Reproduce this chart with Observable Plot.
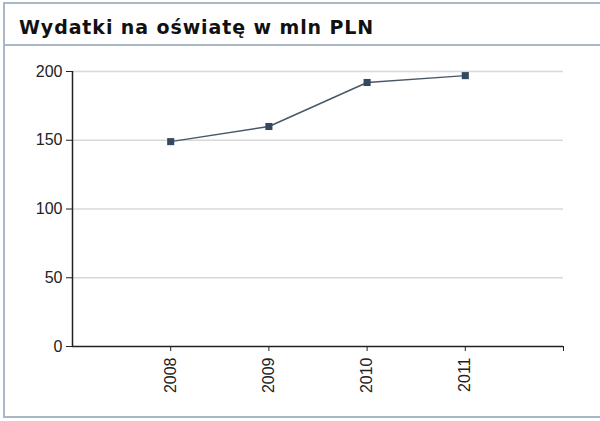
<!DOCTYPE html>
<html>
<head>
<meta charset="utf-8">
<script src="https://cdn.jsdelivr.net/npm/d3@7"></script>
<script src="https://cdn.jsdelivr.net/npm/@observablehq/plot@0.6"></script>
<style>
  html, body { margin: 0; padding: 0; background: #fff; width: 600px; height: 421px; overflow: hidden; }
  #frame { position: absolute; left: 3px; top: 2px; width: 620px; height: 412px;
    border-top: 2px solid #aab7c6; border-left: 2px solid #aab7c6; border-bottom: 2px solid #aab7c6; }
  #title { position: absolute; left: 3px; top: 2px; width: 620px; height: 42px;
    border-bottom: 2px solid #aab7c6; }
  #title span { position: absolute; left: 16px; top: 16px; line-height: 1; font-family: "DejaVu Sans", Verdana, sans-serif;
    font-weight: bold; font-size: 19px; letter-spacing: 0.9px; color: #111; white-space: nowrap; }
  #chart { position: absolute; left: 0; top: 46px; }
</style>
</head>
<body>
<div id="frame"></div>
<div id="title"><span>Wydatki na oświatę w mln PLN</span></div>
<div id="chart"></div>
<script>
const years = [2008, 2009, 2010, 2011];
const values = [149, 160, 192, 197];
const yTicks = [0, 50, 100, 150, 200];
const xTicks = [2008, 2009, 2010, 2011, 2012];

const data = years.map((y, i) => ({year: y, value: values[i]}));

const chart = Plot.plot({
  width: 600,
  height: 370,
  marginTop: 25,
  marginBottom: 70,
  marginLeft: 72,
  marginRight: 37,
  style: {fontFamily: "'Liberation Sans', Arial, sans-serif", fontSize: "16px", color: "#222", background: "transparent"},
  x: {domain: [2007, 2012], label: null},
  y: {domain: [0, 200], label: null},
  marks: [
    Plot.gridY(yTicks.filter(d => d > 0), {stroke: "#d8d8d8", strokeOpacity: 1, strokeWidth: 1.5}),
    Plot.axisY({ticks: yTicks, tickSize: 6, tickPadding: 4, label: null, stroke: "#222"}),
    Plot.axisX({ticks: xTicks, tickFormat: d => d === 2012 ? "" : String(d), tickRotate: -90, tickSize: 5, tickPadding: 6, label: null, stroke: "#222"}),
    Plot.ruleY([0], {stroke: "#222", strokeWidth: 1.5}),
    Plot.ruleX([2007], {stroke: "#222", strokeWidth: 1.5}),
    Plot.line(data, {x: "year", y: "value", stroke: "#4a5866", strokeWidth: 1.5}),
    Plot.dot(data, {x: "year", y: "value", symbol: "square", r: 4, fill: "#34495e", stroke: "none"})
  ]
});
document.getElementById("chart").appendChild(chart);
</script>
</body>
</html>
